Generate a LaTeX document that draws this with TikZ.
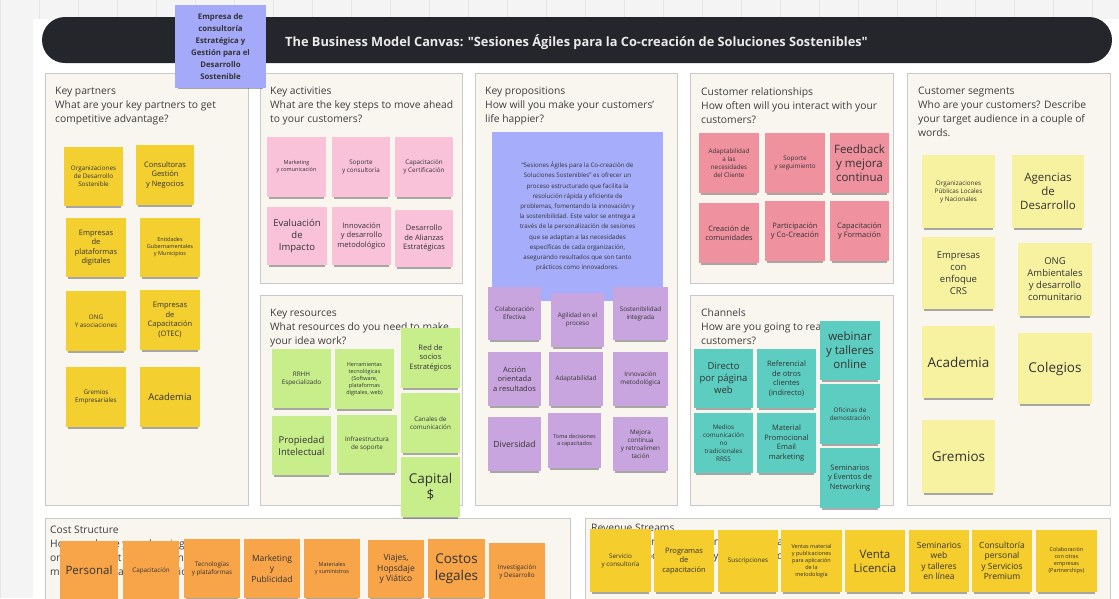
\documentclass[tikz,border=0pt]{standalone}
\usepackage{fontspec}
\setmainfont{Open Sans}
\newfontfamily\osplain{Open Sans}[Ligatures=TeXOff]
\usetikzlibrary{shadows}
\definecolor{bgG}{HTML}{F4F4F4}
\definecolor{gridG}{HTML}{E6E6E6}
\definecolor{titleBG}{HTML}{25262B}
\definecolor{secFill}{HTML}{F9F6F0}
\definecolor{secLine}{HTML}{C9C9C9}
\definecolor{hdText}{HTML}{3D3D3D}
\definecolor{stText}{HTML}{333333}
\definecolor{kpY}{HTML}{F4CF30}
\definecolor{kaP}{HTML}{F9C2D9}
\definecolor{krG}{HTML}{C8EE8C}
\definecolor{vpB}{HTML}{A6ADFA}
\definecolor{vpP}{HTML}{C8A5DE}
\definecolor{crR}{HTML}{F0919F}
\definecolor{chT}{HTML}{5DCDC1}
\definecolor{csY}{HTML}{F7F2A0}
\definecolor{coO}{HTML}{F8A449}
\definecolor{rvY}{HTML}{F5CD2C}
\definecolor{topB}{HTML}{A5A9FA}
\newcommand\szA{\fontsize{5.5}{7}\selectfont}
\newcommand\szB{\fontsize{6.3}{8}\selectfont}
\newcommand\szC{\fontsize{7.5}{9.5}\selectfont}
\newcommand\szCC{\fontsize{8.5}{10.5}\selectfont}
\newcommand\szD{\fontsize{9.5}{12}\selectfont}
\newcommand\szE{\fontsize{11.5}{14}\selectfont}
\newcommand\szF{\fontsize{13.5}{16.5}\selectfont}
\newcommand\stk[8]{\node[stk,fill=#6,minimum width={(#4-#2)*1pt},minimum height={(#5-#3)*1pt},font=#7] (#1) at ({(#2+#4)/2},{(#3+#5)/2}) {#8};}
\tikzset{
  stk/.style={inner sep=0pt, align=center, text=stText,
    general shadow={fill=black, opacity=0.32, shadow yshift=-4pt, shadow scale=0.94}},
  secbox/.style={draw=secLine, fill=secFill, line width=1pt},
  hd/.style={anchor=north west, inner sep=0pt, align=left, text=hdText, font=\fontsize{10.3}{14}\selectfont}
}
\begin{document}
\begin{tikzpicture}[x=1pt,y=-1pt]
\useasboundingbox (0,0) rectangle (1119,598);
% background
\fill[bgG] (0,0) rectangle (1119,598);
\draw[gridG, step=39] (0,0) grid (1119,598);
\fill[white] (33,19) rectangle (1119,610);
% title bar
\fill[titleBG, rounded corners=23pt] (42,17) rectangle (1112,63);
\node[text=white!92!black, font=\osplain\bfseries\fontsize{12.8}{15}\selectfont, inner sep=0pt] (title) at (576.5,42) {The Business Model Canvas: "Sesiones Ágiles para la Co-creación de Soluciones Sostenibles"};
% section boxes
\path[secbox] (45,73) rectangle (248,505);
\path[secbox] (260,73) rectangle (462,283);
\path[secbox] (260,295) rectangle (462,505);
\path[secbox] (475,73) rectangle (677,505);
\path[secbox] (690,73) rectangle (893,283);
\path[secbox] (690,295) rectangle (893,505);
\path[secbox] (907,73) rectangle (1110,505);
\path[secbox] (45,518) rectangle (570,620);
\path[secbox] (585,518) rectangle (1110,620);
% headings
\node[hd] (hkp) at (55,87) {Key partners\\What are your key partners to get\\competitive advantage?};
\node[hd] (hka) at (270,87) {Key activities\\What are the key steps to move ahead\\to your customers?};
\node[hd] (hvp) at (485,87) {Key propositions\\How will you make your customers'\\life happier?};
\node[hd] (hcr) at (701,87) {Customer relationships\\How often will you interact with your\\customers?};
\node[hd] (hcs) at (918,87) {Customer segments\\Who are your customers? Describe\\your target audience in a couple of\\words.};
\node[hd] (hkr) at (270,309) {Key resources\\What resources do you need to make\\your idea work?};
\node[hd] (hch) at (701,308) {Channels\\How are you going to reach your\\customers?};
\node[hd] (hco) at (50,526) {Cost Structure\\How much are you planning to spend\\on the product development and\\marketing for a certain period?};
\node[hd] (hrv) at (591,524) {Revenue Streams\\How much are you planning to earn in a\\certain period? Compare your costs and\\revenues.};
% key partners
\stk{kp1}{64}{147}{123}{206}{kpY}{\szB}{Organizaciones\\de Desarrollo\\Sostenible}
\stk{kp2}{136}{145}{194}{205}{kpY}{\szC}{Consultoras\\Gestión\\y Negocios}
\stk{kp3}{66}{218}{126}{277}{kpY}{\szC}{Empresas\\de\\plataformas\\digitales}
\stk{kp4}{140}{218}{200}{277}{kpY}{\szA}{Entidades\\Gubernamentales\\y Municipios}
\stk{kp5}{66}{291}{126}{351}{kpY}{\szB}{ONG\\Y asociaciones}
\stk{kp6}{140}{290}{200}{350}{kpY}{\szC}{Empresas\\de\\Capacitación\\(OTEC)}
\stk{kp7}{66}{367}{126}{427}{kpY}{\szB}{Gremios\\Empresariales}
\stk{kp8}{140}{367}{200}{427}{kpY}{\szD}{Academia}
% key activities
\stk{ka1}{267}{137}{326}{197}{kaP}{\szA}{Marketing\\y comunicación}
\stk{ka2}{332}{137}{390}{197}{kaP}{\szB}{Soporte\\y consultoría}
\stk{ka3}{395}{137}{453}{197}{kaP}{\szB}{Capacitación\\y Certificación}
\stk{ka4}{267}{207}{327}{265}{kaP}{\szD}{Evaluación\\de\\Impacto}
\stk{ka5}{332}{207}{391}{265}{kaP}{\szC}{Innovación\\y desarrollo\\metodológico}
\stk{ka6}{395}{210}{453}{267}{kaP}{\szC}{Desarrollo\\de Alianzas\\Estratégicas}
% key resources
\stk{kr1}{272}{349}{331}{408}{krG}{\szB}{RRHH\\Especializado}
\stk{kr2}{335}{349}{394}{409}{krG}{\szA}{Herramientas\\tecnológicas\\(Software,\\plataformas\\digitales, web)}
\stk{kr3}{401}{328}{460}{388}{krG}{\szC}{Red de\\socios\\Estratégicos}
\stk{kr4}{272}{416}{331}{475}{krG}{\szD}{Propiedad\\Intelectual}
\stk{kr5}{337}{415}{397}{473}{krG}{\szB}{Infraestructura\\de soporte}
\stk{kr6}{401}{393}{460}{453}{krG}{\szB}{Canales de\\comunicación}
\stk{kr7}{401}{457}{460}{517}{krG}{\szF}{Capital\\\$}
% key propositions
\stk{vp0}{492}{132}{663}{301}{vpB}{\fontsize{6.2}{10.2}\selectfont}{“Sesiones Ágiles para la Co-creación de\\Soluciones Sostenibles” es ofrecer un\\proceso estructurado que facilita la\\resolución rápida y eficiente de\\problemas, fomentando la innovación y\\la sostenibilidad. Este valor se entrega a\\través de la personalización de sesiones\\que se adaptan a las necesidades\\específicas de cada organización,\\asegurando resultados que son tanto\\prácticos como innovadores.}
\stk{vp1}{488}{287}{541}{340}{vpP}{\szB}{Colaboración\\Efectiva}
\stk{vp2}{551}{293}{604}{347}{vpP}{\szB}{Agilidad en el\\proceso}
\stk{vp3}{613}{287}{668}{340}{vpP}{\szB}{Sostenibilidad\\integrada}
\stk{vp4}{488}{352}{541}{406}{vpP}{\szC}{Acción\\orientada\\a resultados}
\stk{vp5}{549}{352}{603}{406}{vpP}{\szB}{Adaptabilidad}
\stk{vp6}{613}{352}{668}{406}{vpP}{\szB}{Innovación\\metodológica}
\stk{vp7}{488}{417}{541}{471}{vpP}{\szCC}{Diversidad}
\stk{vp8}{548}{413}{601}{468}{vpP}{\szA}{Toma decisiones\\a capacitados}
\stk{vp9}{613}{417}{668}{471}{vpP}{\szB}{Mejora\\continua\\y retroalimen\\tación}
% customer relationships
\stk{cr1}{699}{133}{759}{193}{crR}{\szB}{Adaptabilidad\\a las\\necesidades\\del Cliente}
\stk{cr2}{765}{133}{825}{193}{crR}{\szB}{Soporte\\y seguimiento}
\stk{cr3}{830}{133}{889}{193}{crR}{\szE}{Feedback\\y mejora\\continua}
\stk{cr4}{699}{203}{759}{263}{crR}{\szC}{Creación de\\comunidades}
\stk{cr5}{765}{201}{825}{261}{crR}{\szC}{Participación\\y Co-Creación}
\stk{cr6}{830}{201}{889}{261}{crR}{\szC}{Capacitación\\y Formación}
% channels
\stk{ch1}{694}{349}{753}{408}{chT}{\szD}{Directo\\por página\\web}
\stk{ch2}{757}{349}{816}{408}{chT}{\szC}{Referencial\\de otros\\clientes\\(indirecto)}
\stk{ch3}{820}{321}{880}{380}{chT}{\szE}{webinar\\y talleres\\online}
\stk{ch4}{694}{413}{753}{473}{chT}{\szB}{Medios\\comunicación\\no\\tradicionales\\RRSS}
\stk{ch5}{757}{413}{816}{473}{chT}{\szC}{Material\\Promocional\\Email\\marketing}
\stk{ch6}{820}{384}{880}{444}{chT}{\szB}{Oficinas de\\demostración}
\stk{ch7}{820}{448}{880}{508}{chT}{\szC}{Seminarios\\y Eventos de\\Networking}
% customer segments
\stk{cs1}{922}{155}{995}{228}{csY}{\szB}{Organizaciones\\Públicas Locales\\y Nacionales}
\stk{cs2}{1012}{155}{1084}{228}{csY}{\szE}{Agencias\\de\\Desarrollo}
\stk{cs3}{922}{237}{995}{309}{csY}{\szD}{Empresas\\con\\enfoque\\CRS}
\stk{cs4}{1018}{243}{1092}{316}{csY}{\szD}{ONG\\Ambientales\\y desarrollo\\comunitario}
\stk{cs5}{922}{326}{995}{398}{csY}{\szF}{Academia}
\stk{cs6}{1018}{333}{1092}{404}{csY}{\szF}{Colegios}
\stk{cs7}{922}{420}{995}{493}{csY}{\szF}{Gremios}
% cost structure
\stk{co1}{60}{541}{118}{600}{coO}{\szE}{Personal}
\stk{co2}{123}{541}{179}{600}{coO}{\szB}{Capacitación}
\stk{co3}{184}{539}{240}{598}{coO}{\szB}{Tecnologías\\y plataformas}
\stk{co4}{244}{539}{300}{598}{coO}{\szCC}{Marketing\\y\\Publicidad}
\stk{co5}{304}{539}{360}{598}{coO}{\szA}{Materiales\\y suministros}
\stk{co6}{368}{540}{424}{598}{coO}{\szCC}{Viajes,\\Hopsdaje\\y Viático}
\stk{co7}{428}{539}{485}{598}{coO}{\szF}{Costos\\legales}
\stk{co8}{489}{543}{545}{600}{coO}{\szB}{Investigación\\y Desarrollo}
% revenue streams
\stk{rv1}{590}{529}{651}{592}{rvY}{\szB}{Servicio\\y consultoría}
\stk{rv2}{654}{530}{714}{592}{rvY}{\szC}{Programas\\de\\capacitación}
\stk{rv3}{718}{530}{778}{592}{rvY}{\szB}{Suscripciones}
\stk{rv4}{781}{530}{842}{592}{rvY}{\szA}{Ventas material\\y publicaciones\\para aplicación\\de la\\metodología}
\stk{rv5}{845}{530}{905}{592}{rvY}{\szE}{Venta\\Licencia}
\stk{rv6}{909}{530}{969}{592}{rvY}{\szCC}{Seminarios\\web\\y talleres\\en línea}
\stk{rv7}{972}{530}{1032}{592}{rvY}{\szCC}{Consultoría\\personal\\y Servicios\\Premium}
\stk{rv8}{1036}{530}{1097}{592}{rvY}{\szA}{Colaboración\\con otras\\empresas\\(Partnerships)}
% top sticky
\stk{top}{175}{5}{266}{88}{topB}{\bfseries\fontsize{7.8}{12}\selectfont}{Empresa de\\consultoría\\Estratégica y\\Gestión para el\\Desarrollo\\Sostenible}
\end{tikzpicture}
\end{document}
